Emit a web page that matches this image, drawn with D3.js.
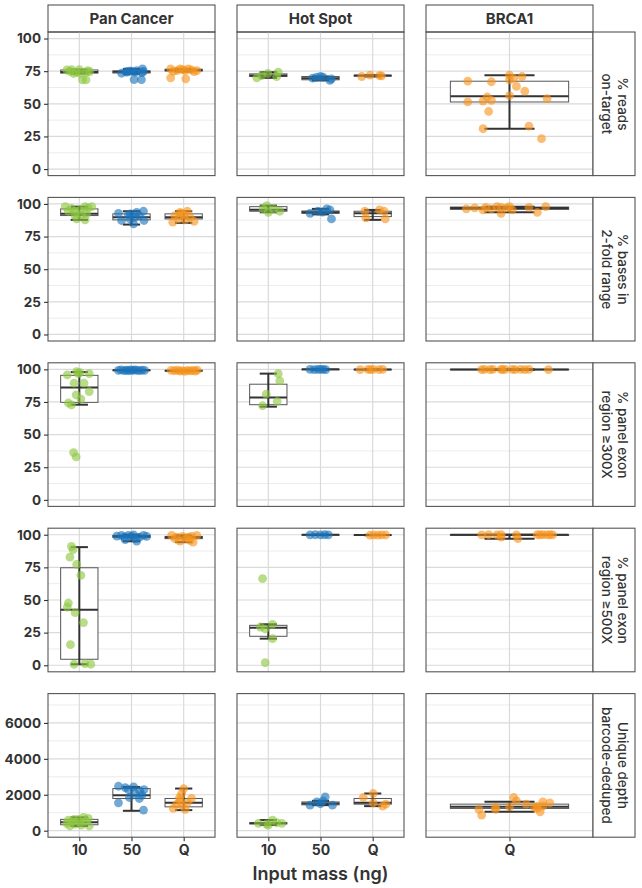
<!DOCTYPE html>
<html>
<head>
<meta charset="utf-8">
<script src="https://cdn.jsdelivr.net/npm/d3@7"></script>
<style>
  body { margin: 0; background: #fff; }
  svg { display: block; }
  text { font-family: Inter, "Noto Sans", sans-serif; fill: #333; }
</style>
</head>
<body>
<svg id="chart" width="642" height="888"></svg>
<script>
// ---- data -------------------------------------------------------------
const facetNames = ["Pan Cancer", "Hot Spot", "BRCA1"];
const panCancerMass = ["10", "50", "Q"];
const hotSpotMass = ["10", "50", "Q"];
const brca1Mass = ["Q"];
const metricLabels = [
  ["% reads", "on-target"],
  ["% bases in", "2-fold range"],
  ["% panel exon", "region \u2265300X"],
  ["% panel exon", "region \u2265500X"],
  ["Unique depth", "barcode-deduped"]
];
const pctTicks = [0, 25, 50, 75, 100];
const pctMinor = [12.5, 37.5, 62.5, 87.5];
const depthTicks = [0, 2000, 4000, 6000];
const depthMinor = [1000, 3000, 5000, 7000];
const xTitle = "Input mass (ng)";

// samples: [facet, mass, [[value, jitter], ...]]
const onTargetPoints = [
  ["Pan Cancer", "10", [[75.9,-0.24],[76.2,-0.15],[76.2,0],[75.4,0.16],[74.7,0.2],[73.2,-0.11],[73.2,0.01],[74.0,0.13],[68.4,0.06],[68.4,0.13],[74.3,-0.06],[74.8,-0.18]]],
  ["Pan Cancer", "50", [[73.4,-0.19],[74.7,-0.1],[75.0,-0.04],[75.0,0],[74.2,0.07],[75.4,0.1],[76.7,0.21],[74.9,0.23],[73.9,0.2],[68.6,0.05],[68.6,0.19],[74.2,-0.09]]],
  ["Pan Cancer", "Q", [[76.7,-0.25],[74.9,-0.2],[76.7,-0.07],[76.2,-0.02],[75.4,0.03],[76.7,0.09],[75.9,0.15],[74.7,0.2],[75.4,0.25],[69.9,-0.25],[69.1,0.04],[75.4,-0.13]]],
  ["Hot Spot", "10", [[69.9,-0.22],[71.6,-0.13],[73.2,-0.01],[70.9,0.16],[74.2,0.19]]],
  ["Hot Spot", "50", [[70.9,0],[70.4,0.05],[67.9,0.18],[69.1,0.21],[70.4,-0.07],[69.6,-0.15]]],
  ["Hot Spot", "Q", [[70.9,-0.21],[71.9,-0.05],[71.6,0.13],[71.4,0.17]]],
  ["BRCA1", "Q", [[67.3,-0.3],[66.9,-0.13],[71.9,0],[68.4,0],[69.4,0.03],[70.9,0.09],[63.3,0.05],[59.7,0.11],[56.2,0],[53.9,0.27],[55.2,-0.16],[52.1,-0.19],[52.7,-0.13],[51.4,-0.3],[44.1,-0.15],[30.9,-0.19],[32.9,0.14],[23.3,0.23]]]
];
const twoFoldPoints = [
  ["Pan Cancer", "10", [[97.9,-0.27],[96.6,-0.15],[94.4,-0.08],[95.4,0.01],[97.9,0.11],[96.9,0.17],[97.9,0.24],[88.5,-0.05],[87.8,0.11],[91.8,0.04],[94.4,-0.21],[92.4,0.14],[91.1,-0.08]]],
  ["Pan Cancer", "50", [[92.8,-0.25],[87.3,-0.19],[91.8,-0.06],[92.4,-0.02],[84.7,0.04],[93.6,0.1],[91.1,0.15],[94.4,0.23],[87.3,0.24],[88.5,-0.03],[89.8,0.07]]],
  ["Pan Cancer", "Q", [[86.0,-0.21],[91.1,-0.17],[93.6,-0.07],[91.8,0],[94.4,0.07],[89.8,0.12],[86.7,0.2],[88.5,-0.1],[87.8,0.03],[92.8,-0.04]]],
  ["Hot Spot", "10", [[98.7,-0.03],[93.6,0],[96.2,0.1],[94.4,0.22],[96.2,-0.1]]],
  ["Hot Spot", "50", [[96.2,0.12],[95.4,0.18],[88.5,0.21],[92.8,-0.2],[94.4,-0.05],[93.8,0.04]]],
  ["Hot Spot", "Q", [[94.4,-0.15],[89.3,-0.13],[95.4,0.13],[94.4,0.22],[88.5,0.24]]],
  ["BRCA1", "Q", [[96.2,-0.31],[96.9,-0.25],[95.4,-0.19],[97.4,-0.17],[97.9,-0.09],[97.4,-0.06],[92.8,-0.06],[97.9,0],[95.4,0.02],[97.4,0.14],[93.6,0.2],[97.9,0.26],[96.2,-0.13],[96.9,-0.02]]]
];
const exon300Points = [
  ["Pan Cancer", "10", [[95.7,-0.23],[98.2,-0.05],[97.4,0.01],[96.7,0.19],[89.4,-0.1],[89.4,0.09],[80.5,-0.06],[77.2,0.03],[83.0,0.19],[74.2,-0.21],[72.7,-0.15],[36.2,-0.11],[32.9,-0.06],[96.7,-0.02]]],
  ["Pan Cancer", "50", [[99.2,-0.25],[99.6,-0.2],[99.0,-0.14],[99.4,-0.1],[98.9,-0.06],[99.5,-0.02],[99.1,0.02],[99.6,0.06],[99.3,0.1],[99.0,0.15],[99.4,0.2],[99.2,0.25]]],
  ["Pan Cancer", "Q", [[99.2,-0.24],[98.9,-0.18],[99.3,-0.12],[98.6,-0.07],[99.0,-0.03],[98.5,0.02],[99.1,0.07],[98.8,0.12],[99.2,0.17],[98.7,0.22],[99.3,0.26]]],
  ["Hot Spot", "10", [[96.7,0.19],[91.1,0.22],[81.0,-0.04],[75.4,0.17],[72.1,-0.11]]],
  ["Hot Spot", "50", [[99.9,-0.2],[99.8,-0.12],[100,-0.05],[99.9,0],[100,0.05],[99.8,0.1]]],
  ["Hot Spot", "Q", [[99.8,-0.24],[99.9,-0.09],[99.8,-0.04],[99.9,0.01],[99.8,0.12],[99.9,0.19]]],
  ["BRCA1", "Q", [[99.8,-0.2],[99.9,-0.18],[99.8,-0.14],[100,-0.12],[99.9,-0.06],[99.8,-0.05],[99.9,-0.03],[100,0.02],[99.8,0.04],[99.9,0.08],[99.8,0.11],[99.9,0.14],[99.8,0.28]]]
];
const exon500Points = [
  ["Pan Cancer", "10", [[91.0,-0.15],[88.5,-0.12],[82.9,-0.18],[77.3,-0.05],[68.9,0.03],[47.7,-0.21],[44.6,-0.23],[40.3,-0.08],[32.7,0.08],[15.8,-0.17],[0.8,-0.1],[1.3,0.11],[0.8,0.22]]],
  ["Pan Cancer", "50", [[98.9,-0.28],[99.5,-0.19],[96.2,-0.12],[99.5,-0.06],[98.7,0],[99.9,0.04],[95.1,0.1],[98.2,0.15],[99.5,0.23],[98.7,0.29],[98.2,-0.14],[97.0,0.07]]],
  ["Pan Cancer", "Q", [[99.5,-0.23],[98.2,-0.13],[95.1,-0.07],[98.7,-0.02],[97.0,0.04],[98.2,0.09],[98.7,0.15],[94.3,0.18],[99.5,0.25],[97.0,-0.17],[95.6,0.12]]],
  ["Hot Spot", "10", [[66.3,-0.11],[29.3,-0.15],[27.8,-0.06],[31.4,0.08],[20.4,0.08],[2.1,-0.06]]],
  ["Hot Spot", "50", [[99.9,-0.2],[100,-0.1],[99.9,0],[100,0.08],[99.9,0.15]]],
  ["Hot Spot", "Q", [[99.6,-0.05],[99.8,0.02],[99.7,0.1],[99.9,0.17],[99.8,0.25]]],
  ["BRCA1", "Q", [[99.9,-0.2],[100,-0.15],[99.9,-0.09],[98.2,-0.06],[100,-0.06],[99.9,0.05],[97.0,0.06],[100,0.2],[99.9,0.22],[100,0.24],[99.9,0.27],[100,0.29],[99.9,0.31]]]
];
const depthPoints = [
  ["Pan Cancer", "10", [[410,-0.24],[592,-0.21],[498,-0.15],[371,-0.08],[631,-0.02],[443,0.03],[741,0.08],[553,0.13],[686,0.17],[260,0.19],[631,-0.1],[315,0.04],[260,-0.18]]],
  ["Pan Cancer", "50", [[2474,-0.25],[2402,-0.12],[2291,-0.06],[2435,0.04],[2214,0.16],[2291,0.24],[1550,-0.25],[1848,-0.04],[1793,0.15],[1976,0.2],[1146,0.23],[2070,0.07]]],
  ["Pan Cancer", "Q", [[2346,0],[2070,-0.04],[1848,-0.08],[1793,0.15],[1240,-0.2],[1478,-0.13],[1422,-0.04],[1184,0.03],[1550,0.07],[1699,-0.07]]],
  ["Hot Spot", "10", [[410,-0.19],[371,-0.03],[592,0.08],[443,0.16],[410,0.26],[315,0]]],
  ["Hot Spot", "50", [[1882,0.09],[1660,0.05],[1422,0.23],[1422,-0.2],[1605,-0.07],[1500,0]]],
  ["Hot Spot", "Q", [[1848,-0.18],[2070,0.01],[1550,0.01],[1367,0.19],[1478,0.25]]],
  ["BRCA1", "Q", [[1184,-0.22],[869,-0.2],[1295,-0.1],[1184,-0.1],[1328,0],[1848,0.03],[1660,0.05],[1478,0.12],[1295,0.18],[1240,0.2],[1051,0.22],[1367,0.24],[1605,0.24],[1550,0.29],[1367,0.2]]]
];

// box summaries: [facet, mass, lower whisker, q1, median, q3, upper whisker]
const onTargetBoxes = [
  ["Pan Cancer", "10", 73.2, 73.5, 74.3, 75.9, 76.2],
  ["Pan Cancer", "50", 73.0, 73.6, 74.5, 75.2, 76.7],
  ["Pan Cancer", "Q", 74.7, 75.2, 75.7, 76.5, 76.7],
  ["Hot Spot", "10", 69.9, 70.9, 71.6, 72.9, 74.2],
  ["Hot Spot", "50", 67.9, 68.4, 69.6, 70.9, 70.9],
  ["Hot Spot", "Q", 70.9, 71.2, 71.6, 71.8, 71.9],
  ["BRCA1", "Q", 30.9, 51.4, 55.7, 67.3, 71.9]
];
const twoFoldBoxes = [
  ["Pan Cancer", "10", 87.8, 91.1, 92.4, 96.2, 97.9],
  ["Pan Cancer", "50", 84.2, 87.8, 89.8, 92.4, 94.4],
  ["Pan Cancer", "Q", 85.5, 88.5, 89.8, 92.4, 94.4],
  ["Hot Spot", "10", 93.6, 94.4, 95.6, 97.9, 98.7],
  ["Hot Spot", "50", 92.0, 92.8, 93.6, 94.6, 96.2],
  ["Hot Spot", "Q", 87.8, 90.3, 92.8, 94.4, 95.4],
  ["BRCA1", "Q", 93.6, 95.8, 96.9, 97.6, 97.9]
];
const exon300Boxes = [
  ["Pan Cancer", "10", 72.9, 74.7, 86.0, 95.4, 97.9],
  ["Pan Cancer", "50", 98.8, 99.0, 99.2, 99.5, 99.7],
  ["Pan Cancer", "Q", 98.4, 98.7, 99.0, 99.2, 99.4],
  ["Hot Spot", "10", 71.4, 72.9, 78.4, 88.6, 96.7],
  ["Hot Spot", "50", 99.8, 99.9, 100, 100, 100],
  ["Hot Spot", "Q", 99.7, 99.8, 99.9, 100, 100],
  ["BRCA1", "Q", 99.5, 99.8, 99.9, 100, 100]
];
const exon500Boxes = [
  ["Pan Cancer", "10", 0.8, 4.6, 42.6, 74.7, 90.5],
  ["Pan Cancer", "50", 95.0, 98.0, 98.8, 99.4, 100],
  ["Pan Cancer", "Q", 94.3, 97.0, 98.0, 98.7, 99.5],
  ["Hot Spot", "10", 20.4, 22.2, 28.8, 30.6, 31.4],
  ["Hot Spot", "50", 99.9, 100, 100, 100, 100],
  ["Hot Spot", "Q", 99.6, 99.7, 99.8, 99.9, 99.9],
  ["BRCA1", "Q", 97.0, 99.5, 100, 100, 100]
];
const depthBoxes = [
  ["Pan Cancer", "10", 260, 330, 470, 630, 740],
  ["Pan Cancer", "50", 1107, 1793, 1976, 2346, 2435],
  ["Pan Cancer", "Q", 1146, 1328, 1550, 1793, 2346],
  ["Hot Spot", "10", 315, 380, 410, 440, 592],
  ["Hot Spot", "50", 1422, 1440, 1520, 1600, 1660],
  ["Hot Spot", "Q", 1367, 1478, 1550, 1793, 2070],
  ["BRCA1", "Q", 1051, 1240, 1328, 1478, 1605]
];

// ---- layout & style ---------------------------------------------------
const massByFacet = { "Pan Cancer": panCancerMass, "Hot Spot": hotSpotMass, "BRCA1": brca1Mass };
const massColor = d3.scaleOrdinal().domain(["10", "50", "Q"]).range(["#8cc63f", "#1c75bc", "#f7941d"]);
const rows = [
  { pts: onTargetPoints, boxes: onTargetBoxes, ticks: pctTicks, minor: pctMinor, domain: [-5, 105] },
  { pts: twoFoldPoints, boxes: twoFoldBoxes, ticks: pctTicks, minor: pctMinor, domain: [-5, 105] },
  { pts: exon300Points, boxes: exon300Boxes, ticks: pctTicks, minor: pctMinor, domain: [-5, 105] },
  { pts: exon500Points, boxes: exon500Boxes, ticks: pctTicks, minor: pctMinor, domain: [-5, 105] },
  { pts: depthPoints, boxes: depthBoxes, ticks: depthTicks, minor: depthMinor, domain: [-363, 7633] }
];

const panelLeft = 48, panelW = 167, gapX = 22;
const panelTop = 32, panelH = 143.6, gapY = 21.8;
const stripTop = 5, stripRightW = 42;
const frame = "#555", ink = "#333";

const svg = d3.select("#chart");

facetNames.forEach((facet, c) => {
  const x0 = panelLeft + c * (panelW + gapX);
  const levels = massByFacet[facet];
  const x = d3.scalePoint().domain(levels).range([x0, x0 + panelW]).padding(0.6);
  const step = x.step();
  const single = levels.length === 1;
  const boxW = step * (single ? 0.85 : 0.715);
  const capW = step * (single ? 0.36 : 0.33);

  // column strip
  svg.append("rect").attr("x", x0).attr("y", stripTop).attr("width", panelW)
    .attr("height", panelTop - stripTop).attr("fill", "#fff").attr("stroke", frame).attr("stroke-width", 1.1);
  svg.append("text").attr("x", x0 + panelW / 2).attr("y", (stripTop + panelTop) / 2)
    .attr("text-anchor", "middle").attr("dominant-baseline", "central")
    .attr("font-size", 15).attr("font-weight", 700).text(facet);

  rows.forEach((row, r) => {
    const y0 = panelTop + r * (panelH + gapY);
    const y = d3.scaleLinear().domain(row.domain).range([y0 + panelH, y0]);
    const g = svg.append("g");

    // grid
    g.selectAll(".minor").data(row.minor).join("line")
      .attr("x1", x0).attr("x2", x0 + panelW).attr("y1", d => y(d)).attr("y2", d => y(d))
      .attr("stroke", "#ececec").attr("stroke-width", 1);
    g.selectAll(".major").data(row.ticks).join("line")
      .attr("x1", x0).attr("x2", x0 + panelW).attr("y1", d => y(d)).attr("y2", d => y(d))
      .attr("stroke", "#dadada").attr("stroke-width", 1.2);
    g.selectAll(".vgrid").data(levels).join("line")
      .attr("x1", d => x(d)).attr("x2", d => x(d)).attr("y1", y0).attr("y2", y0 + panelH)
      .attr("stroke", "#dadada").attr("stroke-width", 1.2);

    // boxes
    const boxes = row.boxes.filter(b => b[0] === facet);
    boxes.forEach(([, m, lo, q1, med, q3, hi]) => {
      const cx = x(m);
      g.append("rect").attr("x", cx - boxW / 2).attr("y", y(q3)).attr("width", boxW)
        .attr("height", Math.max(0.5, y(q1) - y(q3)))
        .attr("fill", "#fff").attr("stroke", "#555").attr("stroke-width", 1);
      g.append("line").attr("x1", cx - boxW / 2).attr("x2", cx + boxW / 2)
        .attr("y1", y(med)).attr("y2", y(med)).attr("stroke", ink).attr("stroke-width", 2);
      g.append("line").attr("x1", cx).attr("x2", cx).attr("y1", y(hi)).attr("y2", y(lo))
        .attr("stroke", ink).attr("stroke-width", 2);
      [lo, hi].forEach(v => g.append("line").attr("x1", cx - capW / 2).attr("x2", cx + capW / 2)
        .attr("y1", y(v)).attr("y2", y(v)).attr("stroke", ink).attr("stroke-width", 2));
    });

    // samples
    row.pts.filter(p => p[0] === facet).forEach(([, m, vals]) => {
      g.selectAll(null).data(vals).join("circle")
        .attr("cx", d => x(m) + d[1] * step).attr("cy", d => y(d[0])).attr("r", 4.4)
        .attr("fill", massColor(m)).attr("fill-opacity", 0.62);
    });

    // panel frame
    g.append("rect").attr("x", x0).attr("y", y0).attr("width", panelW).attr("height", panelH)
      .attr("fill", "none").attr("stroke", frame).attr("stroke-width", 1.1);

    // y axis on the first column
    if (c === 0) {
      const ay = svg.append("g").attr("transform", `translate(${x0},0)`)
        .call(d3.axisLeft(y).tickValues(row.ticks).tickSize(4).tickPadding(3).tickFormat(d3.format("d")));
      ay.select(".domain").remove();
      ay.selectAll(".tick line").attr("stroke", ink).attr("stroke-width", 1.1);
      ay.selectAll(".tick text").attr("font-size", 13.5).attr("font-weight", 700)
        .attr("fill", ink).style("font-family", "Inter, 'Noto Sans', sans-serif");
    }
    // x axis on the last row
    if (r === rows.length - 1) {
      const ax = svg.append("g").attr("transform", `translate(0,${y0 + panelH})`)
        .call(d3.axisBottom(x).tickSize(4).tickPadding(4));
      ax.select(".domain").remove();
      ax.selectAll(".tick line").attr("stroke", ink).attr("stroke-width", 1.1);
      ax.selectAll(".tick text").attr("font-size", 14).attr("font-weight", 700)
        .attr("fill", ink).style("font-family", "Inter, 'Noto Sans', sans-serif");
    }
    // row strip
    if (c === facetNames.length - 1) {
      const sx = x0 + panelW;
      svg.append("rect").attr("x", sx).attr("y", y0).attr("width", stripRightW).attr("height", panelH)
        .attr("fill", "#fff").attr("stroke", frame).attr("stroke-width", 1.1);
      const t = svg.append("text")
        .attr("transform", `translate(${sx + stripRightW / 2},${y0 + panelH / 2}) rotate(90)`)
        .attr("text-anchor", "middle").attr("font-size", 13.5).attr("font-weight", 500);
      metricLabels[r].forEach((line, i) => {
        t.append("tspan").attr("x", 0).attr("y", i === 0 ? -4 : 12).text(line);
      });
    }
  });
});

// x axis title
svg.append("text").attr("x", panelLeft + (3 * panelW + 2 * gapX) / 2).attr("y", 880)
  .attr("text-anchor", "middle").attr("font-size", 18).attr("font-weight", 600).text(xTitle);
</script>
</body>
</html>
